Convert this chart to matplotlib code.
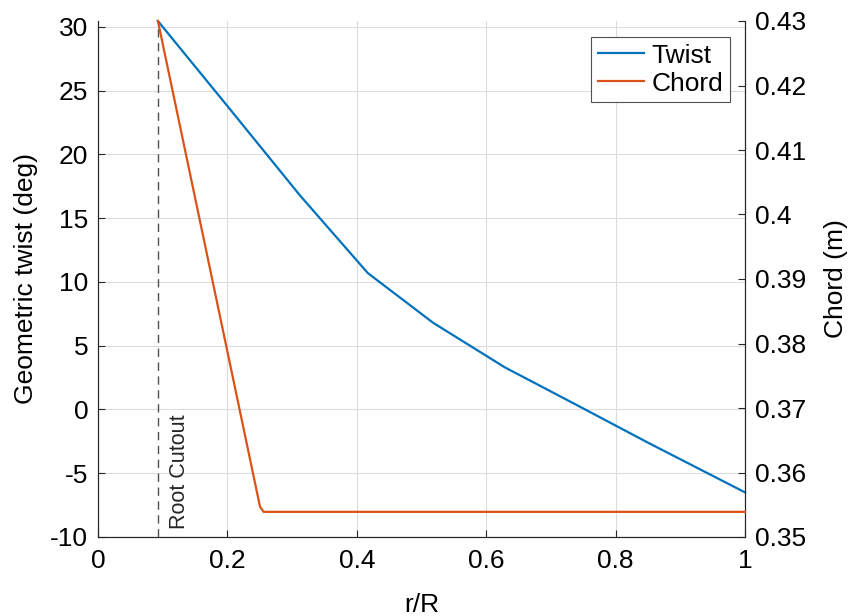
import matplotlib
matplotlib.use('Agg')
import matplotlib.pyplot as plt
from matplotlib.ticker import FuncFormatter

# blade geometry
r_twist = [0.0926, 0.2, 0.312, 0.417, 0.518, 0.629, 0.74, 0.85, 1.0]
twist = [30.47, 23.8, 16.8, 10.7, 6.8, 3.3, 0.35, -2.6, -6.5]

r_chord = [0.0926, 0.2504, 0.256, 1.0]
chord = [0.4300, 0.3547, 0.3539, 0.3539]

root_cutout = 0.0926

BLUE = '#0072BD'
ORANGE = '#D95319'
AXC = '#262626'
GRID = '#DCDCDC'
FS = 19

plt.rcParams['font.family'] = ['Liberation Sans', 'DejaVu Sans']
plt.rcParams['axes.unicode_minus'] = False

fig = plt.figure(figsize=(8.51, 6.16), dpi=100)
ax = fig.add_axes([98 / 851, 1 - 537 / 616, 647 / 851, 516 / 616])
ax2 = ax.twinx()

l1, = ax.plot(r_twist, twist, color=BLUE, lw=1.6, label='Twist', clip_on=False, zorder=3)
l2, = ax2.plot(r_chord, chord, color=ORANGE, lw=1.6, label='Chord', clip_on=False, zorder=3)

ax.axvline(root_cutout, color='#505050', ls=(0, (6, 4)), lw=1.0, zorder=2)
ax.text(root_cutout + 0.033, -9.4, 'Root Cutout', rotation=90, fontsize=15.5,
        color=AXC, ha='center', va='bottom')

ax.set_xlim(0, 1)
ax.set_ylim(-10, 30.47)
ax.set_xticks([0, 0.2, 0.4, 0.6, 0.8, 1])
ax.set_yticks(range(-10, 31, 5))
ax.xaxis.set_major_formatter(FuncFormatter(lambda v, p: f'{v:g}'))
ax2.set_ylim(0.35, 0.43)
ax2.set_yticks([0.35, 0.36, 0.37, 0.38, 0.39, 0.40, 0.41, 0.42, 0.43])
ax2.yaxis.set_major_formatter(FuncFormatter(lambda v, p: f'{round(v, 2):g}'))

ax.grid(True, color=GRID, lw=0.8)
ax.set_axisbelow(True)

for a in (ax, ax2):
    a.spines['top'].set_visible(False)
    for s in ('left', 'right', 'bottom'):
        a.spines[s].set_color(AXC)
        a.spines[s].set_linewidth(0.8)
    a.tick_params(direction='in', length=5, width=0.8, color=AXC,
                  labelsize=FS, labelcolor='black')
ax.tick_params(axis='y', pad=7)
ax.tick_params(axis='x', pad=9)
ax2.tick_params(axis='y', pad=7)

ax.set_xlabel('r/R', fontsize=FS, labelpad=14)
ax.set_ylabel('Geometric twist (deg)', fontsize=FS, labelpad=9)
ax2.set_ylabel('Chord (m)', fontsize=FS, labelpad=13)

leg = ax2.legend(handles=[l1, l2], loc='upper right',
                 bbox_to_anchor=((730 - 98) / 647, (537 - 37) / 516),
                 borderaxespad=0, fontsize=FS, fancybox=False, framealpha=1,
                 edgecolor='#505050', handlelength=1.75, handletextpad=0.3,
                 labelspacing=0.15, borderpad=0.25)
leg.get_frame().set_linewidth(0.8)

fig.savefig('out.png', dpi=100)
